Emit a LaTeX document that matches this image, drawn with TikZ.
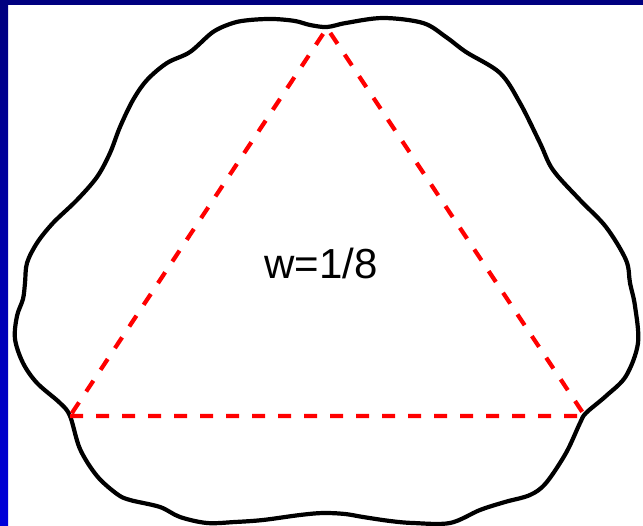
\documentclass[tikz,border=0pt]{standalone}
\usepackage{fontspec}
\setmainfont{Liberation Sans}
\usepackage{xcolor}
\definecolor{cNavy}{RGB}{0,0,128}
\definecolor{cBlue}{RGB}{0,0,218}
\definecolor{cRed}{RGB}{255,0,0}
\tikzset{
	outline/.style={draw=black, line width=4.2pt, line join=round},
	tri/.style    ={draw=cRed, line width=4.2pt, dash pattern=on 13pt off 13pt},
	lbl/.style    ={font=\fontsize{42}{42}\selectfont, inner sep=0pt},
}
\begin{document}
\begin{tikzpicture}[x=1pt, y=-1pt]
	\useasboundingbox (0,0) rectangle (643,526);
	% frame
	\fill[cNavy] (0,0) rectangle (643,5);
	\shade[top color=cNavy, bottom color=cBlue] (0,5) rectangle (8,526);
	% wavy outline
	\draw[outline] plot[smooth cycle, tension=0.55] coordinates {
		(327,27) (310,25) (295,21) (273,19) (250,20) (233,23) (213,32) (190,52)
		(167,63) (147,80) (133,100) (120,127) (110,153) (97,177) (77,200) (53,223)
		(37,243) (27,263) (25,283) (23,299) (17,316) (15,339) (23,363) (37,383)
		(60,403) (70,416) (80,449) (97,476) (117,494) (130,500) (160,507) (180,517)
		(207,523) (235,522) (263,520) (300,515) (323,513) (345,514) (363,517) (390,521)
		(413,523) (450,523) (480,510) (505,502) (530,495) (546,483) (566,453) (580,423)
		(586,413) (606,396) (626,376) (638,343) (635,306) (630,283) (626,260) (606,227)
		(580,200) (553,170) (540,143) (520,103) (500,73) (466,52) (446,37) (423,23)
		(383,18) (346,23)
	};
	% triangle
	\coordinate (top) at (327,28);
	\coordinate (left) at (70,416);
	\coordinate (right) at (585,416);
	\draw[tri] (left) -- (right) -- (top) -- cycle;
	\node[lbl] (w) at (321,263) {w=1/8};
\end{tikzpicture}
\end{document}
